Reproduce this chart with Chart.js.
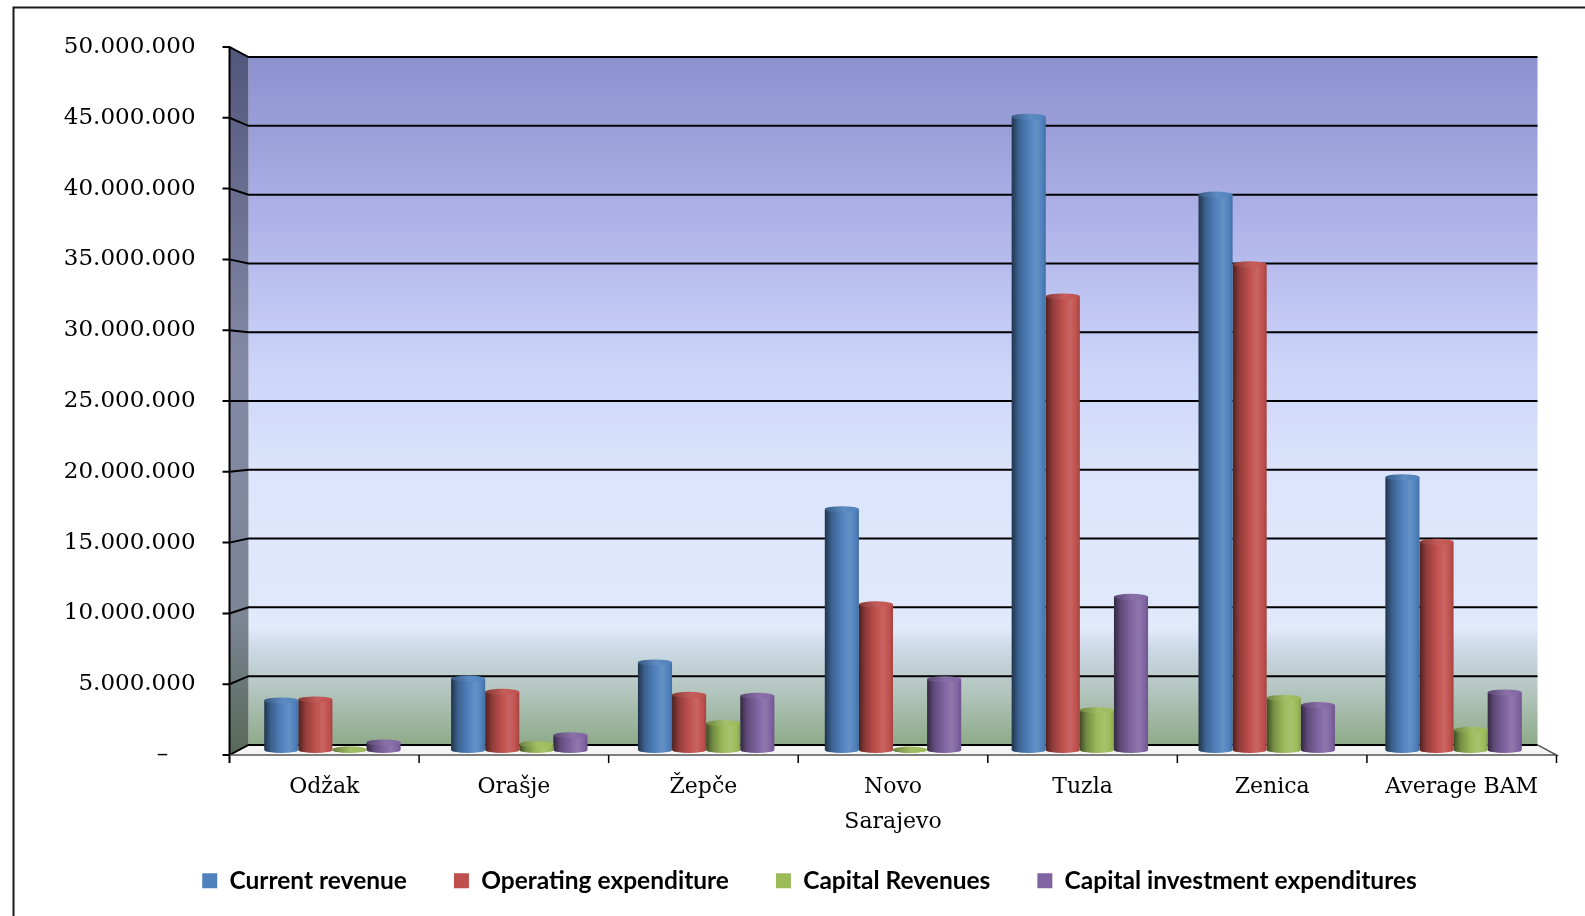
<!DOCTYPE html>
<html>
<head>
<meta charset="utf-8">
<script src="https://cdn.jsdelivr.net/npm/chart.js@4.4.1/dist/chart.umd.min.js"></script>
<style>
  html, body { margin: 0; padding: 0; background: #fff; }
</style>
</head>
<body>
<canvas id="chart" width="1585" height="916"></canvas>
<script>
// municipal budget figures, BAM
const municipalities = ['Odžak', 'Orašje', 'Žepče', ['Novo', 'Sarajevo'], 'Tuzla', 'Zenica', 'Average BAM'];
const currentRevenue = [3550000, 5120000, 6270000, 17250000, 45370000, 39790000, 19540000];
const operatingExpenditure = [3620000, 4170000, 3950000, 10440000, 32490000, 34790000, 14910000];
const capitalRevenues = [50000, 420000, 1920000, 30000, 2850000, 3730000, 1450000];
const capitalInvestment = [540000, 1060000, 3880000, 5070000, 10970000, 3220000, 4120000];
const seriesNames = ['Current revenue', 'Operating expenditure', 'Capital Revenues', 'Capital investment expenditures'];
const seriesColors = ['#4f81bd', '#c0504d', '#9bbb59', '#8064a2'];
const yMin = 0, yMax = 50000000, yStep = 5000000;

const CAT_PCT = 0.73;
const DEPTH = 0.0145; // how far the back wall / front edge sit from the bar plane
const serif = '"DejaVu Serif", serif';

function mix(hex, target, t) {
  const n = parseInt(hex.slice(1), 16);
  const c = [n >> 16, (n >> 8) & 255, n & 255];
  return 'rgb(' + c.map(v => Math.round(v + (target - v) * t)).join(',') + ')';
}
const dark = (h, t) => mix(h, 0, t);
const light = (h, t) => mix(h, 255, t);

function barWidth(chart) {
  return chart.scales.x.width / municipalities.length * CAT_PCT / chart.data.datasets.length;
}

// horizontal shading so each bar reads as a cylinder
function cylinderFill(c) {
  const base = seriesColors[c.datasetIndex];
  const chart = c.chart;
  const xs = chart.scales.x;
  if (c.type !== 'data' || !xs || !chart.chartArea) return base;
  const n = chart.data.datasets.length;
  const w = barWidth(chart);
  const x0 = xs.getPixelForValue(c.dataIndex) - w * n / 2 + w * c.datasetIndex;
  const g = chart.ctx.createLinearGradient(x0, 0, x0 + w, 0);
  g.addColorStop(0, dark(base, 0.6));
  g.addColorStop(0.2, dark(base, 0.25));
  g.addColorStop(0.5, base);
  g.addColorStop(0.72, light(base, 0.12));
  g.addColorStop(0.9, base);
  g.addColorStop(1, dark(base, 0.15));
  return g;
}

function persp(chart, d) {
  const a = chart.chartArea;
  const cx = (a.left + a.right) / 2, cy = (a.top + a.bottom) / 2;
  return { x: p => cx + (p - cx) * (1 + d), y: p => cy + (p - cy) * (1 + d) };
}

function poly(ctx, pts) {
  ctx.beginPath();
  ctx.moveTo(pts[0][0], pts[0][1]);
  for (let i = 1; i < pts.length; i++) ctx.lineTo(pts[i][0], pts[i][1]);
  ctx.closePath();
}

const frame3d = {
  id: 'frame3d',
  beforeDraw(chart) {
    const ctx = chart.ctx;
    ctx.save();
    ctx.strokeStyle = '#1a1a1a';
    ctx.lineWidth = 2;
    ctx.beginPath();
    ctx.moveTo(13.5, 916); ctx.lineTo(13.5, 7.5); ctx.lineTo(1585, 7.5);
    ctx.stroke();
    ctx.restore();
  },
  beforeDatasetsDraw(chart) {
    const ctx = chart.ctx, a = chart.chartArea;
    const ys = chart.scales.y, xs = chart.scales.x;
    const back = persp(chart, -DEPTH), front = persp(chart, DEPTH);
    const bx0 = back.x(a.left), bx1 = back.x(a.right), by0 = back.y(a.top), by1 = back.y(a.bottom);
    const fx0 = front.x(a.left), fx1 = front.x(a.right), fy0 = front.y(a.top), fy1 = front.y(a.bottom);
    ctx.save();

    // back wall
    let g = ctx.createLinearGradient(0, by0, 0, by1);
    g.addColorStop(0, 'rgb(140,144,205)');
    g.addColorStop(0.25, 'rgb(176,180,234)');
    g.addColorStop(0.45, 'rgb(204,212,248)');
    g.addColorStop(0.6, 'rgb(219,228,251)');
    g.addColorStop(0.83, 'rgb(225,234,251)');
    g.addColorStop(0.86, 'rgb(204,217,230)');
    g.addColorStop(0.91, 'rgb(184,201,198)');
    g.addColorStop(1, 'rgb(142,170,136)');
    ctx.fillStyle = g;
    ctx.fillRect(bx0, by0, bx1 - bx0, by1 - by0);

    // left side wall
    g = ctx.createLinearGradient(0, fy0, 0, fy1);
    g.addColorStop(0, 'rgb(82,86,124)');
    g.addColorStop(0.45, 'rgb(132,137,166)');
    g.addColorStop(0.8, 'rgb(124,134,150)');
    g.addColorStop(1, 'rgb(88,104,88)');
    ctx.fillStyle = g;
    poly(ctx, [[fx0, fy0], [bx0, by0], [bx0, by1], [fx0, fy1]]);
    ctx.fill();

    // floor
    ctx.fillStyle = 'rgb(244,244,244)';
    poly(ctx, [[bx0, by1], [bx1, by1], [fx1, fy1], [fx0, fy1]]);
    ctx.fill();

    // grid lines on the back wall with their run-in along the side wall
    ctx.strokeStyle = '#000';
    ctx.lineWidth = 2;
    ys.ticks.forEach(t => {
      const p = ys.getPixelForValue(t.value);
      const yb = back.y(p), yf = front.y(p);
      ctx.beginPath();
      ctx.moveTo(fx0 - 7, yf);
      ctx.lineTo(fx0, yf);
      ctx.lineTo(bx0, yb);
      ctx.lineTo(bx1, yb);
      ctx.stroke();
    });

    // front edges
    ctx.beginPath();
    ctx.moveTo(fx0, fy0); ctx.lineTo(fx0, fy1 + 8);
    ctx.stroke();
    ctx.strokeStyle = '#555';
    ctx.lineWidth = 1.5;
    ctx.beginPath();
    ctx.moveTo(fx0, fy1); ctx.lineTo(fx1, fy1); ctx.lineTo(bx1, by1);
    ctx.stroke();
    ctx.strokeStyle = '#000';
    const n = municipalities.length;
    for (let i = 1; i <= n; i++) {
      const fx = front.x(a.left + i * a.width / n);
      ctx.beginPath();
      ctx.moveTo(fx, fy1); ctx.lineTo(fx, fy1 + 8);
      ctx.stroke();
    }

    // value axis labels on the front edge
    ctx.fillStyle = '#000';
    ctx.font = '23px ' + serif;
    ctx.textBaseline = 'middle';
    ys.ticks.forEach(t => {
      const yf = front.y(ys.getPixelForValue(t.value));
      if (t.value === 0) {
        ctx.textAlign = 'center';
        ctx.fillText('–', fx0 - 67, yf);
      } else {
        ctx.textAlign = 'right';
        ctx.fillText(t.value.toLocaleString('de-DE'), fx0 - 34, yf);
      }
    });

    // category labels
    ctx.font = '22px ' + serif;
    ctx.textAlign = 'center';
    municipalities.forEach((lab, i) => {
      const fx = front.x(xs.getPixelForValue(i));
      const lines = Array.isArray(lab) ? lab : [lab];
      lines.forEach((s, k) => ctx.fillText(s, fx, fy1 + 32 + k * 35));
    });
    ctx.restore();
  },
  afterDatasetsDraw(chart) {
    const ctx = chart.ctx;
    ctx.save();
    chart.data.datasets.forEach((ds, di) => {
      const baseCol = seriesColors[di];
      chart.getDatasetMeta(di).data.forEach(bar => {
        const { x, y, base, width } = bar.getProps(['x', 'y', 'base', 'width'], true);
        const rx = width / 2, ry = 3;
        // rounded foot of the cylinder
        ctx.fillStyle = bar.options.backgroundColor;
        ctx.beginPath();
        ctx.ellipse(x, base, rx, ry, 0, 0, Math.PI);
        ctx.fill();
        // top cap
        const g = ctx.createLinearGradient(x - rx, 0, x + rx, 0);
        g.addColorStop(0, dark(baseCol, 0.3));
        g.addColorStop(0.55, light(baseCol, 0.08));
        g.addColorStop(1, baseCol);
        ctx.fillStyle = g;
        ctx.beginPath();
        ctx.ellipse(x, y, rx, ry, 0, 0, Math.PI * 2);
        ctx.fill();
      });
    });
    ctx.restore();
  }
};

const series = [currentRevenue, operatingExpenditure, capitalRevenues, capitalInvestment];

new Chart(document.getElementById('chart'), {
  type: 'bar',
  data: {
    labels: municipalities,
    datasets: series.map((vals, i) => ({
      label: seriesNames[i],
      data: vals,
      backgroundColor: cylinderFill,
      borderWidth: 0,
      barPercentage: 1,
      categoryPercentage: CAT_PCT
    }))
  },
  options: {
    responsive: false,
    animation: false,
    devicePixelRatio: 1,
    layout: { padding: { top: 52, left: 72, right: 38, bottom: 13 } },
    scales: {
      x: {
        grid: { display: false },
        border: { display: false },
        ticks: { display: false },
        afterFit: s => { s.height = 71.5; }
      },
      y: {
        min: yMin,
        max: yMax,
        grid: { display: false },
        border: { display: false },
        ticks: { display: false, stepSize: yStep },
        afterFit: s => { s.width = 167; }
      }
    },
    plugins: {
      tooltip: { enabled: false },
      legend: {
        position: 'bottom',
        labels: {
          boxWidth: 15,
          boxHeight: 15,
          padding: 47,
          color: '#000',
          font: { family: 'Lato', weight: 'bold', size: 24.5 },
          generateLabels: chart => chart.data.datasets.map((ds, i) => ({
            text: ds.label,
            fillStyle: seriesColors[i],
            strokeStyle: seriesColors[i],
            lineWidth: 0,
            hidden: false,
            datasetIndex: i,
            fontColor: '#000'
          }))
        }
      }
    }
  },
  plugins: [frame3d]
});
</script>
</body>
</html>
